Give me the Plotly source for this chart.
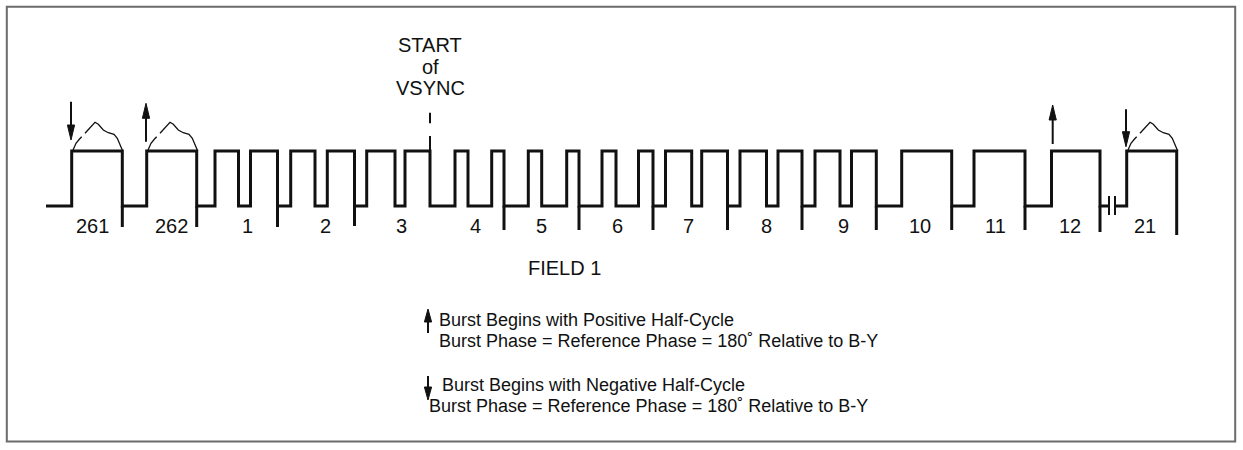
import plotly.graph_objects as go

W, H = 1243, 450
HIGH, LOW = 151, 206

# ---- waveform data (diagram units == window pixels) ----
wave_start_x = 46
transition_x = [71.7, 122.3, 146.7, 196.7, 215, 238.5, 250.5, 277.5, 290.7, 315,
                327.3, 354.5, 366.7, 395, 405, 430, 455, 468, 491.7, 504,
                528.3, 541.7, 566.7, 579, 602, 616, 638.5, 653, 665.5, 691.7,
                701.7, 727.5, 740, 766.5, 778, 802, 815, 840, 851.5, 876.3,
                901.7, 951.7, 974, 1025, 1051.5, 1100, 1126.7, 1176.7]
boundary_x = [122.3, 196.7, 277.5, 354.5, 504, 579, 653, 727.5, 802, 876.3, 951.7, 1025, 1100, 1176.7]
boundary_bottom = [227, 227, 227, 226, 230, 230, 230, 230, 230, 230, 230, 230, 232, 235]
break_x = [1109, 1115]
vsync_x = 430

line_labels = ["261", "262", "1", "2", "3", "4", "5", "6", "7", "8", "9", "10", "11", "12", "21"]
label_x = [92.7, 171.7, 247, 325, 401.7, 475, 541.7, 617.3, 688.3, 766.7, 843.3, 920, 995, 1070, 1145]
label_y = 226

# burst envelope (relative to plateau start)
burst_start_x = [71.7, 146.7, 1126.7]
burst_dx = [1, 4.3, 7.6, 10, None, 13.3, 18.3, 23.3, 26.6, 31.6, 36.6, 42.3, 45.6, 48.3, 51]
burst_dy = [-0.3, -7.7, -11.7, -14.3, None, -17.7, -22.7, -28.7, -26.7, -21, -18.3, -16.7, -12.7, -6, 0]

# burst-phase arrows
arrow_x = [71, 146, 1052.7, 1126]
arrow_tail = [101.7, 141.7, 144, 109.3]
arrow_tip = [140, 103.3, 105, 146.7]

# legend
legend_arrow_x = [428, 428]
legend_arrow_tail = [333, 376]
legend_arrow_tip = [309, 400]
note_lines = ["Burst Begins with Positive Half-Cycle",
              "Burst Phase = Reference Phase = 180˚ Relative to B-Y",
              "Burst Begins with Negative Half-Cycle",
              "Burst Phase = Reference Phase = 180˚ Relative to B-Y"]
note_x = [437, 437, 440, 427]
note_y = [320, 341, 385, 406]

title_lines = ["START", "of", "VSYNC"]
title_y = [45, 66.7, 88.3]
field_text = "FIELD 1"
field_x, field_y = 564, 268

INK = "#111111"
FONT = "Liberation Sans, Arial, sans-serif"

fig = go.Figure()

# waveform path
xs, ys = [wave_start_x], [LOW]
level = LOW
prev_x = wave_start_x
for tx in transition_x:
    if level == LOW and prev_x < break_x[0] < tx:
        xs += [break_x[0], None, break_x[1]]
        ys += [LOW, None, LOW]
    xs.append(tx); ys.append(level)
    level = HIGH if level == LOW else LOW
    xs.append(tx); ys.append(level)
    prev_x = tx

fig.add_trace(go.Scatter(x=xs, y=ys, mode="lines", line=dict(color=INK, width=3),
                         hoverinfo="skip", showlegend=False))

# boundary ticks
tx_, ty_ = [], []
for bx, bb in zip(boundary_x, boundary_bottom):
    tx_ += [bx, bx, None]
    ty_ += [LOW, bb, None]
fig.add_trace(go.Scatter(x=tx_, y=ty_, mode="lines", line=dict(color=INK, width=3),
                         hoverinfo="skip", showlegend=False))

# break bars
bx_, by_ = [], []
for b in break_x:
    bx_ += [b, b, None]
    by_ += [196, 215, None]
fig.add_trace(go.Scatter(x=bx_, y=by_, mode="lines", line=dict(color=INK, width=2),
                         hoverinfo="skip", showlegend=False))

# vsync marker
fig.add_trace(go.Scatter(x=[vsync_x, vsync_x, None, vsync_x, vsync_x],
                         y=[136, HIGH, None, 112.7, 123.3], mode="lines",
                         line=dict(color=INK, width=2), hoverinfo="skip", showlegend=False))

# burst envelopes
ex, ey = [], []
for sx in burst_start_x:
    for dx, dy in zip(burst_dx, burst_dy):
        if dx is None:
            ex.append(None); ey.append(None)
        else:
            ex.append(sx + dx); ey.append(HIGH + dy)
    ex.append(None); ey.append(None)
fig.add_trace(go.Scatter(x=ex, y=ey, mode="lines", line=dict(color=INK, width=1.3),
                         hoverinfo="skip", showlegend=False))


def add_arrow(x, tail, tip, head_len=15, half_w=3.6, stem_w=2):
    d = 1 if tip > tail else -1
    base = tip - d * head_len
    fig.add_trace(go.Scatter(x=[x, x], y=[tail, base + d * 2], mode="lines",
                             line=dict(color=INK, width=stem_w),
                             hoverinfo="skip", showlegend=False))
    fig.add_trace(go.Scatter(x=[x - half_w, x + half_w, x, x - half_w],
                             y=[base, base, tip, base], mode="lines", fill="toself",
                             fillcolor=INK, line=dict(color=INK, width=1),
                             hoverinfo="skip", showlegend=False))


for ax, at, ap in zip(arrow_x, arrow_tail, arrow_tip):
    add_arrow(ax, at, ap)
for ax, at, ap in zip(legend_arrow_x, legend_arrow_tail, legend_arrow_tip):
    add_arrow(ax, at, ap, head_len=13, half_w=3.6)

annotations = []
for t, x in zip(line_labels, label_x):
    annotations.append(dict(x=x, y=label_y, text=t, showarrow=False, xanchor="center",
                            yanchor="middle", font=dict(family=FONT, size=20, color=INK)))
for t, y in zip(title_lines, title_y):
    annotations.append(dict(x=vsync_x, y=y, text=t, showarrow=False, xanchor="center",
                            yanchor="middle", font=dict(family=FONT, size=20, color=INK)))
annotations.append(dict(x=field_x, y=field_y, text=field_text, showarrow=False,
                        xanchor="center", yanchor="middle",
                        font=dict(family=FONT, size=20, color=INK)))
for t, x, y in zip(note_lines, note_x, note_y):
    annotations.append(dict(x=x, y=y, text=t, showarrow=False, xanchor="left",
                            yanchor="middle", font=dict(family=FONT, size=18, color=INK)))

fig.update_layout(
    width=W, height=H, margin=dict(l=0, r=0, t=0, b=0),
    paper_bgcolor="white", plot_bgcolor="white",
    xaxis=dict(range=[0, W], visible=False, fixedrange=True),
    yaxis=dict(range=[H, 0], visible=False, fixedrange=True),
    annotations=annotations,
    shapes=[dict(type="rect", xref="x", yref="y", x0=6.8, y0=6.8, x1=1235.2, y1=441.5,
                 line=dict(color="#6b6b6b", width=2))],
)

# remove the default page margin so the figure sits at the window origin
fig.write_html("out.html",
               config={"displayModeBar": False},
               post_script="document.body.style.margin='0';document.body.style.overflow='hidden';")
